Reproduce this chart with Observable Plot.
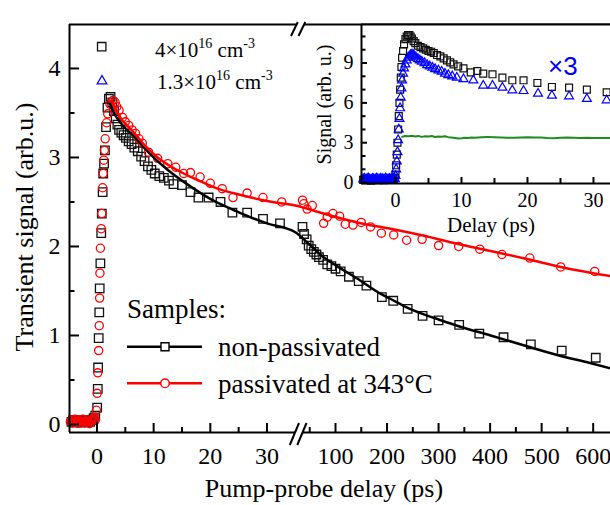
<!DOCTYPE html>
<html><head><meta charset="utf-8">
<script src="https://cdn.jsdelivr.net/npm/d3@7"></script>
<script src="https://cdn.jsdelivr.net/npm/@observablehq/plot@0.6"></script>
<style>
html,body{margin:0;padding:0;background:#fff;overflow:hidden}
#wrap{position:relative;width:610px;height:505px;overflow:hidden;background:#fff}
#wrap svg{position:absolute;left:0;top:0}
</style></head><body><div id="wrap"></div>
<script>
// ---------- main panel data: [delay (ps), signal (arb.u.)] ----------
const nonPassivated = [
[-4.5,0.03],[-4.2,0.05],[-3.9,0.02],[-3.6,0.04],[-3.3,0.03],[-3.0,0.05],[-2.7,0.02],[-2.4,0.04],[-2.1,0.03],[-1.8,0.05],[-1.5,0.04],[-1.2,0.03],[-0.9,0.05],[-0.6,0.07],[-0.3,0.1],
[0.03,0.19],[0.14,0.4],[0.2,0.64],[0.3,0.97],[0.4,1.26],[0.48,1.53],[0.6,1.81],[0.75,2.15],[0.85,2.37],[1.0,2.61],[1.1,2.82],[1.25,2.93],[1.4,3.08],[1.6,3.34],[1.85,3.56],[2.1,3.66],[2.4,3.68],
[2.7,3.62],[3.0,3.52],[3.3,3.44],[3.6,3.37],[3.9,3.31],[4.3,3.28],[4.7,3.25],[5.1,3.22],[5.6,3.18],[6.1,3.15],[6.6,3.11],[7.2,3.07],[7.8,3.01],[8.4,2.96],[9.0,2.9],[9.6,2.86],[10.2,2.82],[11.0,2.79],[11.8,2.77],[12.7,2.74],[13.5,2.7],[15.0,2.69],[16.5,2.61],[17.9,2.55],[19.7,2.55],[21.8,2.5],[23.9,2.38],[26.5,2.38],[29.3,2.31],[32.3,2.26],
[36,2.22],[39,2.14],[44,2.08],[48,2.01],[53,1.97],[58,1.94],[63,1.91],[68,1.88],[76,1.85],[84,1.8],[92,1.78],[100,1.75],[110,1.72],[126,1.66],[145,1.61],[160,1.56],[190,1.43],[212,1.39],[240,1.3],[269,1.22],[300,1.17],[340,1.12],[379,1.02],[426,0.98],[479,0.9],[539,0.83],[605,0.75]
];
const nonPassivatedFit = [
[2.3,3.6],[3,3.5],[4,3.4],[5,3.33],[6.5,3.24],[8.3,3.11],[10.5,2.97],[12.5,2.86],[15,2.74],[18.3,2.6],[21,2.5],[24.1,2.41],[27,2.33],[30,2.26],[35,2.16],
[50,2.02],[77,1.88],[100,1.79],[142,1.64],[187,1.47],[207,1.41],[240,1.31],[270,1.24],[300,1.18],[336,1.11],[401,1.0],[465,0.89],[530,0.78],[594,0.69],[640,0.62]
];
const passivated = [
[-4.7,0.03],[-4.5,0.05],[-4.3,0.02],[-4.1,0.04],[-3.9,0.06],[-3.7,0.03],[-3.5,0.02],[-3.3,0.05],[-3.1,0.04],[-2.9,0.02],[-2.7,0.03],[-2.5,0.06],[-2.3,0.04],[-2.1,0.02],[-1.9,0.03],[-1.7,0.05],[-1.5,0.03],[-1.3,0.01],[-1.1,0.04],[-0.9,0.05],[-0.7,0.06],[-0.5,0.08],[-0.3,0.05],
[-0.1,0.16],[0.03,0.35],[0.14,0.58],[0.3,0.83],[0.4,1.11],[0.47,1.42],[0.52,1.7],[0.6,1.98],[0.75,2.2],[0.85,2.37],[1.0,2.66],[1.1,2.82],[1.2,2.97],[1.3,3.08],[1.45,3.21],[1.7,3.39],[1.9,3.49],[2.3,3.6],[2.8,3.64],[3.2,3.62],
[3.5,3.57],[3.9,3.53],[4.5,3.45],[5.0,3.4],[5.6,3.36],[6.2,3.31],[6.8,3.27],[7.4,3.21],[8.0,3.16],[9.1,3.06],[10.7,2.99],[12.5,2.93],[13.9,2.89],[15.3,2.82],[16.5,2.83],[18.2,2.78],[20,2.71],[22.1,2.65],[24,2.55],[26.5,2.6],[29.3,2.55],[32.6,2.5],
[36,2.52],[38.5,2.48],[45,2.42],[55,2.46],[77,2.26],[84,2.33],[95,2.37],[108,2.34],[119,2.25],[134,2.24],[150,2.27],[168,2.22],[189,2.15],[213,2.13],[238,2.07],[268,2.08],[300,2.01],[339,2.0],[380,1.97],[423,1.91],[477,1.87],[537,1.77],[603,1.72]
];
const passivatedFit = [
[2.6,3.64],[3.2,3.56],[4,3.46],[5,3.38],[6.5,3.28],[8.5,3.13],[10.7,3.0],[13,2.9],[15.3,2.82],[18,2.74],[21.3,2.65],[24,2.6],[27.2,2.55],[31,2.5],[35,2.46],
[77,2.37],[142,2.27],[207,2.2],[272,2.12],[336,2.03],[401,1.95],[478,1.85],[537,1.77],[640,1.66]
];
const xMajorTicks = [0,10,20,30,100,200,300,400,500,600];
const xMinorTicks = [5,15,25,50,150,250,350,450,550];
const yMajorTicks = [0,1,2,3,4];
const yMinorTicks = [0.5,1.5,2.5,3.5];

// ---------- inset data: [delay (ps), signal (arb. u.)] ----------
const inset4e16 = [
[-4.9,0.2],[-4.7,0.25],[-4.5,0.18],[-4.3,0.22],[-4.1,0.28],[-3.9,0.2],[-3.7,0.15],[-3.5,0.24],[-3.3,0.21],[-3.1,0.19],[-2.9,0.26],[-2.7,0.22],[-2.5,0.18],[-2.3,0.25],[-2.1,0.2],[-1.9,0.23],[-1.7,0.17],[-1.5,0.27],[-1.3,0.21],[-1.1,0.2],[-0.9,0.24],[-0.7,0.19],[-0.5,0.26],[-0.3,0.3],[-0.1,0.35],
[0.0,0.6],[0.1,1.3],[0.2,2.1],[0.3,3.0],[0.4,4.0],[0.5,5.0],[0.6,6.0],[0.7,7.0],[0.8,7.9],[0.9,8.7],[1.0,9.4],[1.15,9.9],[1.3,10.4],[1.5,10.8],[1.7,11.0],[1.9,11.1],[2.1,11.1],[2.3,11.0],[2.5,10.85],[2.75,10.65],[3.0,10.5],[3.4,10.3],[3.8,10.2],[4.2,10.1],[4.6,10.0],[5.0,9.9],[5.4,9.85],[5.8,9.75],[6.3,9.6],[6.8,9.5],[7.3,9.35],[7.8,9.2],[8.3,9.05],[8.8,8.9],[9.5,8.75],[10.3,8.6],[11.4,8.3],[12.4,8.4],[13.3,8.2],[14.7,8.15],[16.2,7.9],[17.7,7.7],[19.4,7.7],[21.5,7.5],[23.7,7.2],[26.3,7.15],[29,7.0],[32,6.8]
];
const inset13e16 = [
[-4.9,0.25],[-4.7,0.3],[-4.5,0.22],[-4.3,0.28],[-4.1,0.32],[-3.9,0.24],[-3.7,0.2],[-3.5,0.29],[-3.3,0.26],[-3.1,0.23],[-2.9,0.31],[-2.7,0.27],[-2.5,0.22],[-2.3,0.3],[-2.1,0.25],[-1.9,0.28],[-1.7,0.21],[-1.5,0.32],[-1.3,0.26],[-1.1,0.24],[-0.9,0.29],[-0.7,0.23],[-0.5,0.3],[-0.3,0.27],[-0.1,0.28],
[0.0,0.5],[0.1,1.0],[0.2,1.6],[0.3,2.3],[0.4,3.2],[0.5,4.0],[0.6,4.8],[0.7,5.6],[0.8,6.4],[0.9,7.1],[1.0,7.7],[1.15,8.2],[1.3,8.6],[1.5,8.9],[1.7,9.2],[1.9,9.4],[2.1,9.5],[2.3,9.6],[2.5,9.65],[2.7,9.6],[2.9,9.5],[3.1,9.42],[3.4,9.3],[3.7,9.2],[4.0,9.1],[4.4,9.0],[4.8,8.85],[5.2,8.75],[5.6,8.65],[6.0,8.55],[6.5,8.45],[7.0,8.35],[7.5,8.2],[8.0,8.1],[8.6,8.0],[9.3,7.9],[10.3,7.8],[11.8,7.7],[13.3,7.3],[14.7,7.3],[16.2,7.15],[17.7,6.95],[19.4,6.9],[21.6,6.7],[23.7,6.55],[26.3,6.5],[29,6.3],[32,6.2]
];
const insetReference = [
[1.0,3.45],[1.5,3.5],[2,3.48],[2.5,3.52],[3,3.47],[3.5,3.5],[4,3.44],[4.5,3.49],[5,3.46],[5.5,3.5],[6,3.43],[6.5,3.47],[7,3.45],[7.5,3.48],[8,3.42],[8.5,3.4],[9,3.36],[9.5,3.32],[10,3.34],[10.5,3.38],[11,3.36],[11.5,3.4],[12,3.38],[13,3.42],[14,3.44],[15,3.41],[16,3.39],[17,3.37],[18,3.38],[19,3.4],[20,3.41],[21,3.39],[22,3.4],[23,3.36],[24,3.34],[25,3.37],[26,3.39],[27,3.38],[28,3.36],[29,3.37],[30,3.36],[31,3.35],[32,3.36],[33,3.35]
];
const insetXMajor = [0,10,20,30];
const insetXMinor = [5,15,25];
const insetYMajor = [0,3,6,9];
const insetYMinor = [1,2,4,5,7,8,10,11];

const SERIF = "'Liberation Serif','Times New Roman',serif";
const SANS = "'Liberation Sans',Arial,sans-serif";
const RED = "#ff0000", BLUE = "#0000ff", GREEN = "#1e8c1e";
const tx = d => d[0], ty = d => d[1], id = d => d;
const fmt = d => String(d);

// scale settings (main x axis is broken: piecewise linear)
const mainX = {domain: [-4.85, 35, 35.001, 640], range: [69, 294.8, 301.5, 613.3]};
const mainY = {domain: [-0.09, 4.494], range: [432, 24]};
const insX = {domain: [-5.15, 32.58], range: [361, 610]};
const insY = {domain: [-0.07, 11.9], range: [183, 24]};

// inward ticks as short rules (length in px converted to data units)
function tickRulesX(ticks, len, X, Y) {
  const k = (Y.domain[1] - Y.domain[0]) / Math.abs(Y.range[0] - Y.range[1]);
  return Plot.ruleX(ticks, {x: id, y1: Y.domain[0], y2: Y.domain[0] + len * k, stroke: "black", strokeWidth: 2});
}
function tickRulesY(ticks, len, X, Y) {
  const k = (X.domain[1] - X.domain[0]) / Math.abs(X.range[1] - X.range[0]);
  return Plot.ruleY(ticks, {y: id, x1: X.domain[0], x2: X.domain[0] + len * k, stroke: "black", strokeWidth: 2});
}

// ---------- main chart ----------
const main = Plot.plot({
  width: 610, height: 505,
  marginLeft: 69, marginRight: 0, marginTop: 24, marginBottom: 73,
  style: {fontFamily: SERIF, fontSize: "24px", background: "white", overflow: "visible", maxWidth: "none", color: "black"},
  x: {type: "linear", ...mainX},
  y: {type: "linear", ...mainY},
  marks: [
    Plot.dot(nonPassivated, {x: tx, y: ty, symbol: "square", r: 4.8, stroke: "#111", strokeWidth: 1.3, fill: "none"}),
    Plot.dot(passivated, {x: tx, y: ty, symbol: "circle", r: 4.1, stroke: RED, strokeWidth: 1.3, fill: "none"}),
    Plot.line(nonPassivatedFit, {x: tx, y: ty, stroke: "black", strokeWidth: 2.5, curve: "monotone-x"}),
    Plot.line(passivatedFit, {x: tx, y: ty, stroke: RED, strokeWidth: 2.5, curve: "monotone-x"}),
    tickRulesX(xMajorTicks, 9, mainX, mainY),
    tickRulesX(xMinorTicks, 5, mainX, mainY),
    tickRulesY(yMajorTicks, 10, mainX, mainY),
    tickRulesY(yMinorTicks, 5.5, mainX, mainY),
    Plot.ruleY([mainY.domain[0], mainY.domain[1]], {stroke: "black", strokeWidth: 2}),
    Plot.ruleX([mainX.domain[0]], {stroke: "black", strokeWidth: 2}),
    Plot.axisX({ticks: xMajorTicks, tickSize: 0, tickPadding: 14, tickFormat: fmt, fontSize: 24, label: null}),
    Plot.axisY({ticks: yMajorTicks, tickSize: 0, tickPadding: 9, tickFormat: fmt, fontSize: 24, label: null})
  ]
});

// ---------- inset ----------
const inset = Plot.plot({
  width: 610, height: 505,
  marginLeft: 361, marginRight: 0, marginTop: 24, marginBottom: 322,
  style: {fontFamily: SERIF, fontSize: "20px", background: "transparent", overflow: "visible", maxWidth: "none", color: "black"},
  x: {type: "linear", ...insX},
  y: {type: "linear", ...insY},
  marks: [
    Plot.frame({fill: "white", stroke: "none"}),
    Plot.line(insetReference, {x: tx, y: ty, stroke: GREEN, strokeWidth: 2}),
    Plot.dot(inset4e16, {x: tx, y: ty, symbol: "square", r: 3.9, stroke: "#111", strokeWidth: 1.2, fill: "none"}),
    Plot.dot(inset13e16, {x: tx, y: ty, symbol: "triangle", r: 3.3, stroke: BLUE, strokeWidth: 1.2, fill: "none"}),
    tickRulesX(insetXMajor, 6, insX, insY),
    tickRulesX(insetXMinor, 5, insX, insY),
    tickRulesY(insetYMajor, 6, insX, insY),
    tickRulesY(insetYMinor, 4.5, insX, insY),
    Plot.ruleY([insY.domain[0], insY.domain[1]], {stroke: "black", strokeWidth: 2}),
    Plot.ruleX([insX.domain[0]], {stroke: "black", strokeWidth: 2}),
    Plot.axisX({ticks: insetXMajor, tickSize: 0, tickPadding: 9, tickFormat: fmt, fontSize: 20, label: null}),
    Plot.axisY({ticks: insetYMajor, tickSize: 0, tickPadding: 8, tickFormat: fmt, fontSize: 20, label: null})
  ]
});

const wrap = document.getElementById("wrap");
wrap.appendChild(main);
wrap.appendChild(inset);

// ---------- decorations on main svg ----------
const ms = d3.select(main);
const sx = main.scale("x");
const xb = (sx.apply(35) + sx.apply(35.001)) / 2;
function brk(cx, yTop, yBot, dx, gap) {
  const g = ms.append("g");
  const x1b = cx - gap/2 - dx, x1t = cx - gap/2 + dx, x2b = cx + gap/2 - dx, x2t = cx + gap/2 + dx;
  g.append("polygon").attr("points", `${x1b},${yBot} ${x1t},${yTop} ${x2t},${yTop} ${x2b},${yBot}`).attr("fill", "white");
  g.append("line").attr("x1", x1b).attr("y1", yBot).attr("x2", x1t).attr("y2", yTop).attr("stroke", "black").attr("stroke-width", 2);
  g.append("line").attr("x1", x2b).attr("y1", yBot).attr("x2", x2t).attr("y2", yTop).attr("stroke", "black").attr("stroke-width", 2);
}
brk(xb, 22, 36, 3.4, 7.5);
brk(xb, 423, 445, 4.6, 7.5);

function txt(sel, x, y, s, size, anchor, fam, col) {
  return sel.append("text").attr("x", x).attr("y", y).attr("text-anchor", anchor || "start")
    .attr("font-family", fam || SERIF).attr("font-size", size).attr("fill", col || "black").text(s);
}
txt(ms, 324, 497, "Pump-probe delay (ps)", 26, "middle");
ms.append("text").attr("transform", "translate(33,227) rotate(-90)").attr("text-anchor", "middle")
  .attr("font-family", SERIF).attr("font-size", 26).attr("fill", "black").text("Transient signal (arb.u.)");

// top-left density legend
ms.append("path").attr("transform", "translate(101.7,46.7)").attr("d", d3.symbol(d3.symbolSquare, 8.4*8.4)())
  .attr("fill", "none").attr("stroke", "#111").attr("stroke-width", 1.3);
ms.append("path").attr("transform", "translate(102,81)").attr("d", d3.symbol(d3.symbolTriangle, 40)())
  .attr("fill", "none").attr("stroke", BLUE).attr("stroke-width", 1.3);
function densityLabel(x, y, base) {
  const t = ms.append("text").attr("x", x).attr("y", y).attr("text-anchor", "start")
    .attr("font-family", SERIF).attr("font-size", 21).attr("fill", "black");
  t.append("tspan").text(base + "\u00d710");
  t.append("tspan").attr("font-size", 14).attr("dy", -9).text("16");
  t.append("tspan").attr("font-size", 21).attr("dy", 9).text(" cm");
  t.append("tspan").attr("font-size", 14).attr("dy", -9).text("-3");
}
densityLabel(155, 57, "4");
densityLabel(157, 89, "1.3");

// samples legend
txt(ms, 127, 318, "Samples:", 27);
ms.append("line").attr("x1", 127).attr("x2", 202).attr("y1", 346.7).attr("y2", 346.7).attr("stroke", "black").attr("stroke-width", 2.5);
ms.append("path").attr("transform", "translate(165,346.7)").attr("d", d3.symbol(d3.symbolSquare, 64)())
  .attr("fill", "white").attr("stroke", "black").attr("stroke-width", 1.4);
txt(ms, 218, 356, "non-passivated", 27);
ms.append("line").attr("x1", 127).attr("x2", 202).attr("y1", 383.3).attr("y2", 383.3).attr("stroke", RED).attr("stroke-width", 2.5);
ms.append("circle").attr("cx", 165).attr("cy", 383.3).attr("r", 4.3).attr("fill", "white").attr("stroke", RED).attr("stroke-width", 1.4);
txt(ms, 218, 393, "passivated at 343\u00b0C", 27);

// ---------- inset texts ----------
const is = d3.select(inset);
txt(is, 491, 232, "Delay (ps)", 21, "middle");
is.append("text").attr("transform", "translate(331,104.5) rotate(-90)").attr("text-anchor", "middle")
  .attr("font-family", SERIF).attr("font-size", 20).attr("fill", "black").text("Signal (arb. u.)");
txt(is, 548, 75, "\u00d73", 26, "start", SANS, BLUE);
</script></body></html>
